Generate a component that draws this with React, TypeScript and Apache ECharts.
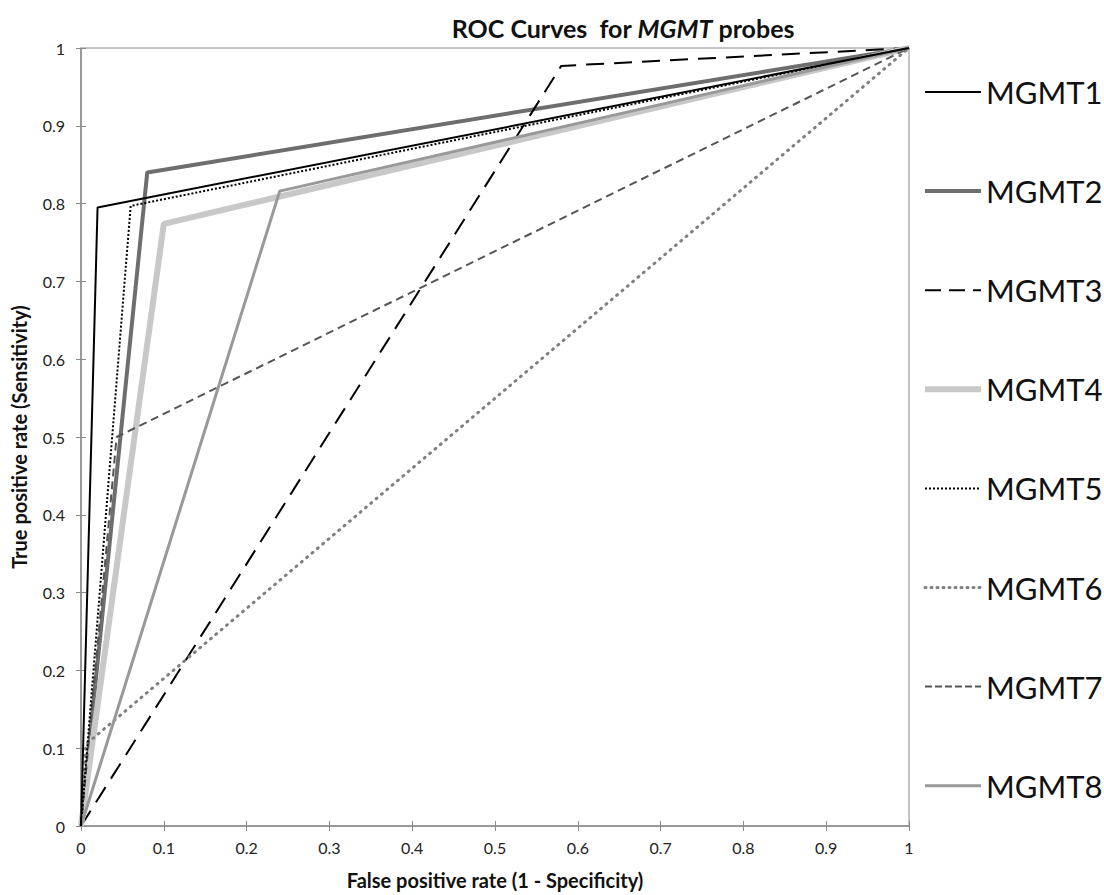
import React, { useEffect, useRef } from "react";
import * as echarts from "echarts";

const seriesNames = ["MGMT1", "MGMT2", "MGMT3", "MGMT4", "MGMT5", "MGMT6", "MGMT7", "MGMT8"];
const mgmt1 = [[0, 0], [0.02, 0.795], [1, 1]];
const mgmt2 = [[0, 0], [0.08, 0.84], [1, 1]];
const mgmt3 = [[0, 0], [0.58, 0.977], [1, 1]];
const mgmt4 = [[0, 0], [0.1, 0.774], [1, 1]];
const mgmt5 = [[0, 0], [0.06, 0.797], [1, 1]];
const mgmt6 = [[0, 0], [0.006, 0.105], [1, 1]];
const mgmt7 = [[0, 0], [0.043, 0.5], [1, 1]];
const mgmt8 = [[0, 0], [0.24, 0.816], [1, 1]];
const allData = [mgmt1, mgmt2, mgmt3, mgmt4, mgmt5, mgmt6, mgmt7, mgmt8];

const styles: any[] = [
  { color: "#000000", width: 2, type: "solid" },
  { color: "#6e6e6e", width: 4, type: "solid" },
  { color: "#000000", width: 2, type: [18, 10] },
  { color: "#c8c8c8", width: 6, type: "solid" },
  { color: "#000000", width: 2, type: [2, 2] },
  { color: "#7f7f7f", width: 3, type: [1, 6], cap: "round" },
  { color: "#555555", width: 2, type: [8, 5] },
  { color: "#999999", width: 3, type: "solid" },
];

const legendLineStyles: any[] = [
  { width: 2, type: "solid" },
  { width: 4, type: "solid" },
  { width: 2, type: [16, 8] },
  { width: 6, type: "solid" },
  { width: 2, type: [2, 2] },
  { width: 3, type: [1, 5], cap: "round" },
  { width: 2, type: [7, 3] },
  { width: 3, type: "solid" },
];

const FONT = "Lato, 'Open Sans', sans-serif";

export default function App() {
  const ref = useRef<HTMLDivElement>(null);
  useEffect(() => {
    if (!ref.current) return;
    const chart = echarts.init(ref.current, undefined, { renderer: "svg" });
    const series = seriesNames.map((name, i) => ({
      name,
      type: "line",
      data: allData[i],
      showSymbol: false,
      symbol: "none",
      lineStyle: styles[i],
      itemStyle: { color: styles[i].color },
      z: 2 + (i === 0 ? 8 : i === 4 ? 7 : i),
    }));
    chart.setOption({
      animation: false,
      backgroundColor: "#ffffff",
      textStyle: { fontFamily: FONT },
      title: {
        text: "{b|ROC Curves  for }{i|MGMT}{b| probes}",
        left: 618,
        textAlign: "center",
        top: 10,
        textStyle: {
          rich: {
            b: { fontFamily: FONT, fontWeight: "bold", fontSize: 25, color: "#111" },
            i: { fontFamily: FONT, fontWeight: "bold", fontStyle: "italic", fontSize: 25, color: "#111" },
          },
        },
      },
      legend: {
        orient: "vertical",
        left: 922,
        top: 75,
        padding: 0,
        itemWidth: 56,
        itemHeight: 14,
        itemGap: 65.1,
        data: seriesNames.map((name, i) => ({
          name,
          lineStyle: { color: styles[i].color, ...legendLineStyles[i] },
        })),
        itemStyle: { opacity: 0, borderWidth: 0 },
        textStyle: { fontFamily: FONT, fontSize: 31, color: "#111", lineHeight: 34 },
      },
      grid: {
        left: 81,
        right: 195,
        top: 48,
        bottom: 65,
        show: true,
        borderColor: "#8a8a8a",
        borderWidth: 1,
        containLabel: false,
      },
      xAxis: [
        {
          type: "value",
          min: 0,
          max: 1,
          interval: 0.1,
          name: "False positive rate (1 - Specificity)",
          nameLocation: "middle",
          nameGap: 44,
          nameTextStyle: { fontFamily: FONT, fontWeight: "bold", fontSize: 20, color: "#111" },
          axisLine: { show: true, lineStyle: { color: "#8a8a8a", width: 1.5 } },
          axisTick: { show: true, length: 5, lineStyle: { color: "#8a8a8a" } },
          axisLabel: { fontFamily: FONT, fontSize: 16, color: "#222", margin: 13 },
          splitLine: { show: false },
        },
        {
          type: "value",
          min: 0,
          max: 1,
          interval: 0.1,
          position: "bottom",
          axisLine: { show: false },
          axisTick: { show: true, inside: true, length: 5, lineStyle: { color: "#8a8a8a" } },
          axisLabel: { show: false },
          splitLine: { show: false },
        },
      ],
      yAxis: [
        {
          type: "value",
          min: 0,
          max: 1,
          interval: 0.1,
          name: "True positive rate (Sensitivity)",
          nameLocation: "middle",
          nameGap: 52,
          nameRotate: 90,
          nameTextStyle: { fontFamily: FONT, fontWeight: "bold", fontSize: 20, color: "#111" },
          axisLine: { show: true, lineStyle: { color: "#8a8a8a", width: 1.5 } },
          axisTick: { show: true, length: 5, lineStyle: { color: "#8a8a8a" } },
          axisLabel: { fontFamily: FONT, fontSize: 16, color: "#222", margin: 16 },
          splitLine: { show: false },
        },
        {
          type: "value",
          min: 0,
          max: 1,
          interval: 0.1,
          position: "left",
          axisLine: { show: false },
          axisTick: { show: true, inside: true, length: 5, lineStyle: { color: "#8a8a8a" } },
          axisLabel: { show: false },
          splitLine: { show: false },
        },
      ],
      series,
    });
    return () => chart.dispose();
  }, []);
  return <div ref={ref} style={{ width: 1104, height: 895, position: "absolute", left: 0, top: 0 }} />;
}
